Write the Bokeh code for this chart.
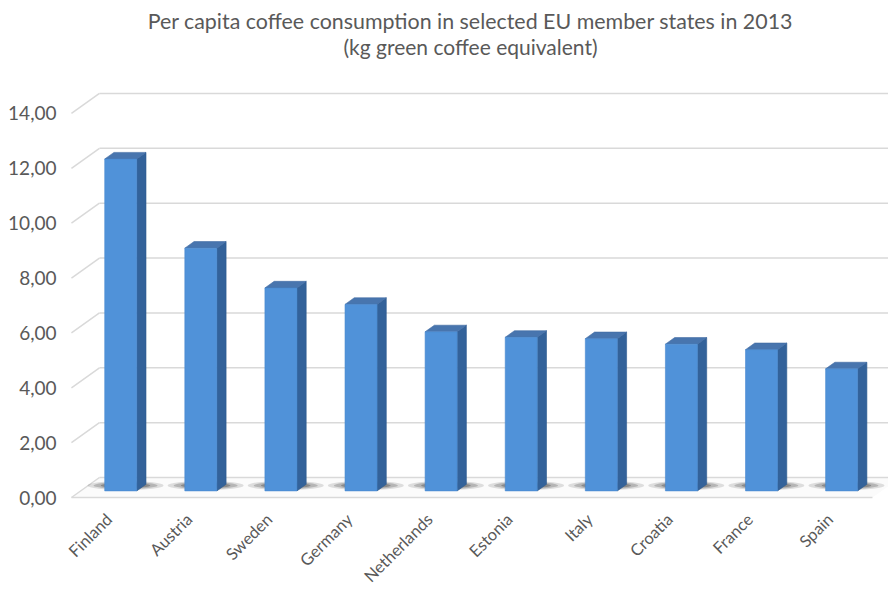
import numpy as np
from bokeh.plotting import figure
from bokeh.models import Range1d, FixedTicker, CustomJSTickFormatter
from bokeh.core.properties import value
from bokeh.embed import file_html
from bokeh.resources import INLINE

# ---------------- data ----------------
countries = ["Finland", "Austria", "Sweden", "Germany", "Netherlands",
             "Estonia", "Italy", "Croatia", "France", "Spain"]
consumption = [12.1, 8.85, 7.4, 6.8, 5.8, 5.6, 5.55, 5.35, 5.15, 4.45]
y_ticks = [0, 2, 4, 6, 8, 10, 12, 14]
title_line1 = "Per capita coffee consumption in selected EU member states in 2013"
title_line2 = "(kg green coffee equivalent)"

# ---------------- layout ----------------
W, H = 888, 590
PX_X = 80.1      # px per category
PX_Y = 27.43     # px per kg
FL = 60                             # frame left in figure px (y-axis panel)
X0_PX, Y0_PX = 111, 497             # px of (category 0, value 0) on the front plane
DX = 28 / PX_X                      # depth offset (front -> back) in data units
DY = 20 / PX_Y
F0, FD = 0.33, 0.33                 # bar front depth fraction, bar depth fraction
BW = 0.4                            # bar width (category units)
LABEL_DX = -0.03
LABEL_Y = (Y0_PX - 516) / PX_Y      # category label anchor (below the floor)
TITLE_X = (470 - X0_PX) / PX_X
TITLE_Y1 = (Y0_PX - 20) / PX_Y
TITLE_Y2 = (Y0_PX - 46) / PX_Y

TXT = "#595959"
GRID = "#d9d9d9"
FONT = "Lato"

p = figure(width=W, height=H, output_backend="svg", toolbar_location=None,
           min_border_left=FL, min_border_right=0,
           min_border_top=0, min_border_bottom=0,
           x_range=Range1d((FL - X0_PX) / PX_X, (W - X0_PX) / PX_X),
           y_range=Range1d((Y0_PX - H) / PX_Y, Y0_PX / PX_Y),
           background_fill_color="white", border_fill_color="white")
p.outline_line_color = None
p.xgrid.visible = False
p.ygrid.visible = False
p.xaxis.visible = False
p.title.visible = False

n = len(countries)
idx = np.arange(n, dtype=float)
vals = np.array(consumption, dtype=float)
yt = np.array(y_ticks, dtype=float)

# ---- floor ----
xl, xr = -0.5, n - 0.5
p.patch([xl, xr, xr + DX, xl + DX], [0, 0, DY, DY],
        fill_color="#fbfbfb", line_color=None)
p.segment(x0=[xl], y0=[0], x1=[xr], y1=[0], line_color=GRID, line_width=1.5)

# ---- back wall grid + side wall diagonals ----
p.segment(x0=np.full(len(yt), xl + DX), y0=yt + DY,
          x1=np.full(len(yt), xr + DX + 0.3), y1=yt + DY,
          line_color=GRID, line_width=1.5)
p.segment(x0=np.full(len(yt), xl), y0=yt,
          x1=np.full(len(yt), xl + DX), y1=yt + DY,
          line_color=GRID, line_width=1.5)

# ---- shadows on floor ----
cx = idx + F0 * DX + 0.06
for w, h, a in [(0.95, 0.34, 0.14), (0.8, 0.25, 0.22), (0.62, 0.17, 0.32)]:
    p.ellipse(x=cx, y=np.full(n, 0.6 * DY), width=w, height=h,
              fill_color="#2a2a2a", fill_alpha=a, line_color=None)

# ---- 3D bars ----
x_left = idx + F0 * DX - BW / 2
x_right = x_left + BW
y_base = np.full(n, F0 * DY)
y_top = vals + F0 * DY
ddx, ddy = FD * DX, FD * DY

side_xs = [[r, r + ddx, r + ddx, r] for r in x_right]
side_ys = [[b, b + ddy, t + ddy, t] for b, t in zip(y_base, y_top)]
p.patches(side_xs, side_ys, fill_color="#33629a", line_color="#2d5a8e", line_width=0.6)
top_xs = [[l, r, r + ddx, l + ddx] for l, r in zip(x_left, x_right)]
top_ys = [[t, t, t + ddy, t + ddy] for t in y_top]
p.patches(top_xs, top_ys, fill_color="#4875ae", line_color="#416ca2", line_width=0.6)
p.quad(left=x_left, right=x_right, bottom=y_base, top=y_top,
       fill_color="#5092d9", line_color="#4888cf", line_width=0.6)

# ---- category labels ----
p.text(x=idx + LABEL_DX, y=np.full(n, LABEL_Y), text=countries, angle=np.pi / 4,
       text_align="right", text_baseline="middle",
       text_font=value(FONT), text_font_size="16.5px", text_color=TXT)

# ---- title (two centred lines) ----
p.text(x=[TITLE_X], y=[TITLE_Y1], text=[title_line1],
       text_align="center", text_baseline="middle",
       text_font=value(FONT), text_font_size="21.4px", text_color=TXT)
p.text(x=[TITLE_X], y=[TITLE_Y2], text=[title_line2],
       text_align="center", text_baseline="middle",
       text_font=value(FONT), text_font_size="21px", text_color=TXT)

# ---- y axis ----
ya = p.yaxis[0]
ya.ticker = FixedTicker(ticks=y_ticks)
ya.formatter = CustomJSTickFormatter(code="return tick.toFixed(2).replace('.', ',');")
ya.axis_line_color = None
ya.major_tick_line_color = None
ya.minor_tick_line_color = None
ya.major_tick_out = 0
ya.major_tick_in = 0
ya.major_label_standoff = 4
ya.major_label_text_font = FONT
ya.major_label_text_font_size = "19px"
ya.major_label_text_color = TXT

open("out.html", "w").write(file_html(p, INLINE))
